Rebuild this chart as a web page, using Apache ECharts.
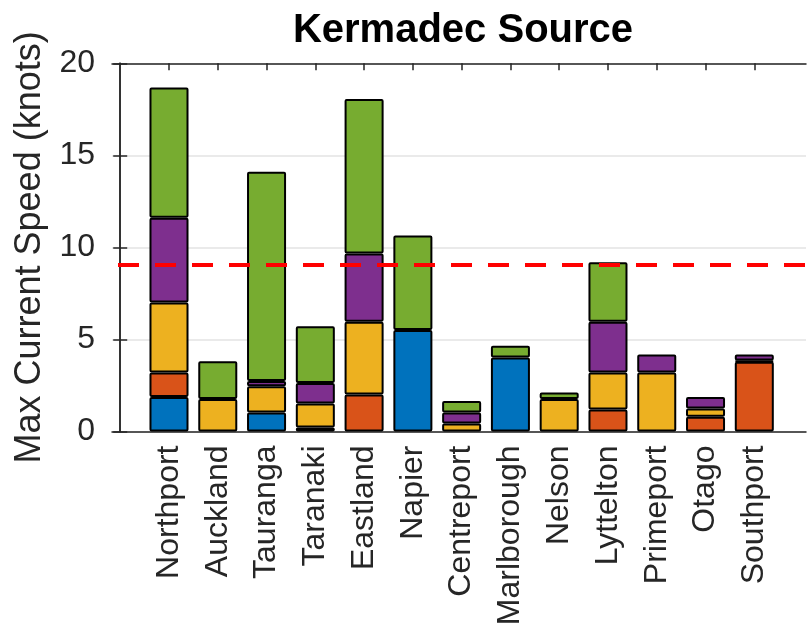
<!DOCTYPE html>
<html>
<head>
<meta charset="utf-8">
<script src="https://cdn.jsdelivr.net/npm/echarts@6/dist/echarts.min.js"></script>
<style>
html,body{margin:0;padding:0;background:#fff;}
#chart{width:807px;height:623px;}
</style>
</head>
<body>
<div id="chart"></div>
<script>
const categories = ['Northport','Auckland','Tauranga','Taranaki','Eastland','Napier','Centreport','Marlborough','Nelson','Lyttelton','Primeport','Otago','Southport'];
const blueVals   = [1.88, 0, 1.03, 0, 0, 5.51, 0, 4.02, 0, 0, 0, 0, 0];
const orangeVals = [1.33, 0, 0, 0.22, 2.01, 0, 0, 0, 0, 1.20, 0, 0.80, 3.79];
const yellowVals = [3.80, 1.76, 1.43, 1.30, 3.95, 0, 0.43, 0, 1.76, 2.01, 3.21, 0.45, 0.06];
const purpleVals = [4.60, 0, 0.28, 1.11, 3.71, 0, 0.60, 0, 0, 2.75, 0.97, 0.63, 0.33];
const greenVals  = [7.07, 2.06, 11.37, 3.09, 8.39, 5.14, 0.62, 0.64, 0.36, 3.24, 0, 0, 0];
const threshold = 9.04;

const positions = categories.map((c, i) => i + 1);
const seriesDefs = [
  {name: 'S1', vals: blueVals, color: '#0072BD'},
  {name: 'S2', vals: orangeVals, color: '#D95319'},
  {name: 'S3', vals: yellowVals, color: '#EDB120'},
  {name: 'S4', vals: purpleVals, color: '#7E2F8E'},
  {name: 'S5', vals: greenVals, color: '#77AC30'}
];
const FONT = 'Liberation Sans, Arial, Helvetica, sans-serif';
const AX = '#262626';

// frame grid spans the full axes box; bar grid holds the 13 category bands
const XMIN = -0.1685, XMAX = 14.06;
const frameLeft = 112, frameRight = 806;
const unit = (frameRight - frameLeft) / (XMAX - XMIN);
const barLeft = frameLeft + (0.5 - XMIN) * unit;
const barRight = frameLeft + (13.5 - XMIN) * unit;

const chart = echarts.init(document.getElementById('chart'), null, {renderer: 'canvas'});
const series = seriesDefs.map(s => ({
  name: s.name,
  type: 'bar',
  stack: 'total',
  barWidth: '80%',
  xAxisIndex: 2, yAxisIndex: 2,
  data: s.vals.map(v => v > 0 ? v : '-'),
  itemStyle: {color: s.color, borderColor: '#000', borderWidth: 2, borderRadius: 1},
  emphasis: {disabled: true},
  animation: false
}));
series.push({
  type: 'line',
  xAxisIndex: 0, yAxisIndex: 0,
  data: [],
  z: 10,
  silent: true,
  markLine: {
    silent: true,
    symbol: ['none', 'none'],
    label: {show: false},
    lineStyle: {color: '#FF0000', width: 4, type: [21, 16], dashOffset: -6},
    data: [{yAxis: threshold}],
    animation: false
  }
});

const option = {
  animation: false,
  backgroundColor: '#fff',
  graphic: [{
    type: 'text',
    x: 463, y: 31,
    style: {
      text: 'Kermadec Source',
      fontSize: 40, fontWeight: 'bold', fontFamily: FONT,
      fill: '#000', align: 'center', verticalAlign: 'middle'
    }
  }],
  grid: [
    {left: frameLeft, width: frameRight - frameLeft, top: 63.3, bottom: 191.5, containLabel: false, outerBoundsMode: 'none'},
    {left: barLeft, width: barRight - barLeft, top: 63.3, bottom: 191.5, containLabel: false, outerBoundsMode: 'none'}
  ],
  xAxis: [{
    type: 'value', gridIndex: 0,
    min: XMIN, max: XMAX,
    position: 'bottom',
    axisLine: {show: true, onZero: false, lineStyle: {color: AX, width: 1.5}},
    axisTick: {show: false},
    splitLine: {show: false},
    axisLabel: {show: false}
  }, {
    type: 'value', gridIndex: 0,
    min: XMIN, max: XMAX,
    position: 'top',
    axisLine: {show: true, onZero: false, lineStyle: {color: AX, width: 1.5}},
    axisTick: {show: true, inside: true, length: 7, customValues: positions, lineStyle: {color: AX, width: 1.5}},
    splitLine: {show: false},
    axisLabel: {show: false}
  }, {
    type: 'category', gridIndex: 1,
    data: categories,
    position: 'bottom',
    axisLine: {show: false},
    axisTick: {show: false},
    splitLine: {show: false},
    axisLabel: {
      interval: 0, rotate: 90, margin: 14, fontSize: 32, color: AX, fontFamily: FONT
    }
  }],
  yAxis: [{
    type: 'value', gridIndex: 0,
    min: 0, max: 20, interval: 5,
    position: 'left',
    name: 'Max Current Speed (knots)',
    nameLocation: 'middle',
    nameGap: 62,
    nameRotate: 90,
    nameTextStyle: {fontSize: 36, color: AX, fontFamily: FONT},
    axisLine: {show: true, lineStyle: {color: AX, width: 1.5}},
    axisTick: {show: true, inside: true, length: 7, lineStyle: {color: AX, width: 1.5}},
    splitLine: {show: true, lineStyle: {color: '#e3e3e3', width: 1.5}},
    axisLabel: {margin: 17, fontSize: 32, color: AX, fontFamily: FONT}
  }, {
    type: 'value', gridIndex: 0,
    min: 0, max: 20, interval: 5,
    position: 'right',
    axisLine: {show: true, lineStyle: {color: AX, width: 1.5}},
    axisTick: {show: true, inside: true, length: 7, lineStyle: {color: AX, width: 1.5}},
    splitLine: {show: false},
    axisLabel: {show: false}
  }, {
    type: 'value', gridIndex: 1,
    min: 0, max: 20,
    show: false
  }],
  series: series
};
chart.setOption(option);
</script>
</body>
</html>
